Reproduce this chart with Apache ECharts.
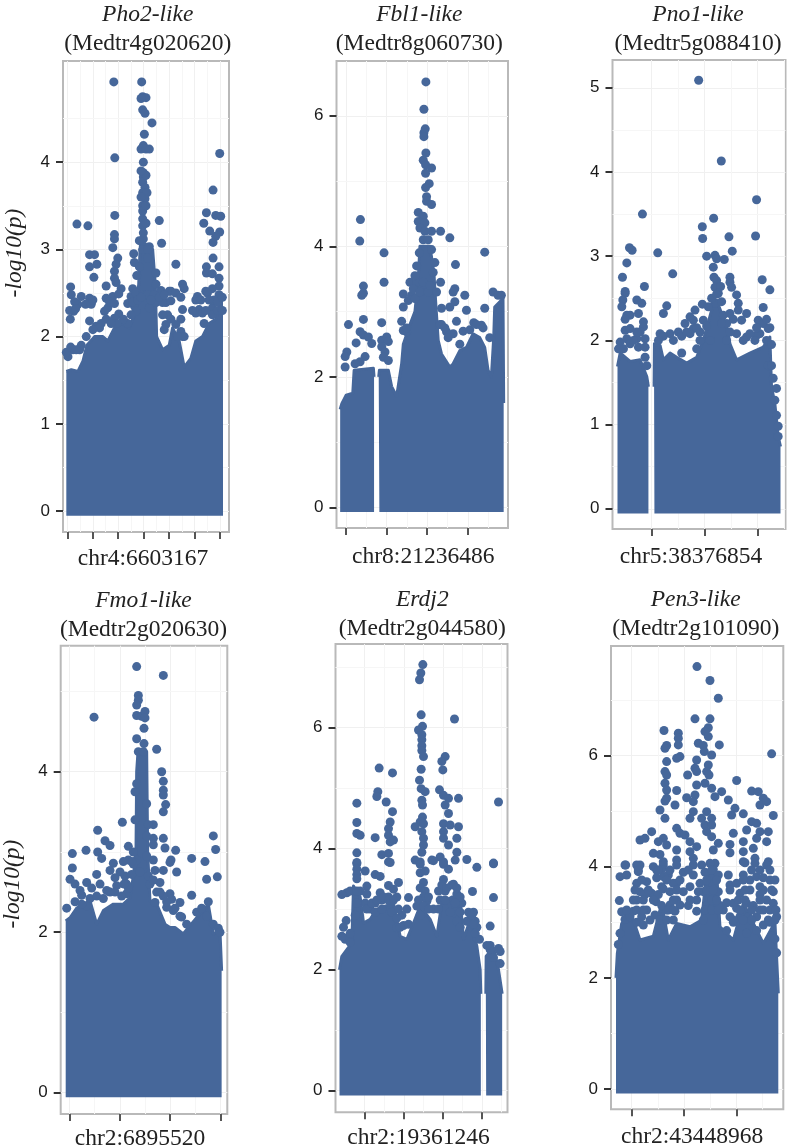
<!DOCTYPE html>
<html>
<head>
<meta charset="utf-8">
<script src="https://cdn.jsdelivr.net/npm/echarts@6/dist/echarts.min.js"></script>
<style>html,body{margin:0;padding:0;background:#fff}#c{width:789px;height:1148px}</style>
</head>
<body>
<div id="c"></div>
<script>
// x = relative position on an unlabelled scale, y = -log10(p)
const genes = ['Pho2-like','Fbl1-like','Pno1-like','Fmo1-like','Erdj2','Pen3-like'];
const loci = ['(Medtr4g020620)','(Medtr8g060730)','(Medtr5g088410)','(Medtr2g020630)','(Medtr2g044580)','(Medtr2g101090)'];
const snps = ['chr4:6603167','chr8:21236486','chr5:38376854','chr2:6895520','chr2:19361246','chr2:43448968'];

const pho2Ticks = [0,1,2,3,4];
const fbl1Ticks = [0,2,4,6];
const pno1Ticks = [0,1,2,3,4,5];
const fmo1Ticks = [0,2,4];
const erdj2Ticks = [0,2,4,6];
const pen3Ticks = [0,2,4,6];

const pho2Pos = [203,280,356,433,510,586,663];
const fbl1Pos = [257,380,502,625];
const pno1Pos = [364,524,683];
const fmo1Pos = [208,360,510,661];
const erdj2Pos = [313,431,548,665];
const pen3Pos = [305,462,619];

// solid lower mass: upper edge along the position scale
const pho2Mass = [[200,1.6],[215,1.62],[235,1.6],[250,1.72],[262,1.9],[285,2.0],[310,2.0],[325,1.95],[345,2.1],[365,2.15],[390,2.1],[410,2.3],[418,2.6],[422,3.0],[460,3.0],[468,2.6],[472,2.0],[490,1.85],[510,1.9],[520,2.1],[540,1.95],[555,1.65],[575,1.75],[590,1.95],[610,2.0],[630,2.15],[650,2.2],[665,2.4],[672,2.4]];
const fbl1Mass = [[240,1.5],[245,1.59],[258,1.72],[278,1.75],[282,2.1],[340,2.13],[342,2.0],[349,null],[356,2.0],[358,2.1],[385,2.1],[395,1.85],[410,1.7],[425,2.2],[430,2.5],[450,2.8],[465,3.0],[475,3.5],[480,4.0],[510,4.0],[522,3.6],[528,3.1],[535,2.56],[545,2.35],[570,2.15],[580,2.2],[600,2.4],[620,2.45],[640,2.66],[660,2.6],[675,2.45],[685,2.1],[695,2.0],[702,2.6],[705,3.07],[730,3.2],[732,1.6]];
const pno1Mass = [[262,1.69],[270,1.85],[300,1.75],[330,1.77],[350,1.57],[355,1.45],[363,null],[372,1.45],[373,1.96],[390,1.94],[400,1.77],[420,1.85],[440,1.8],[470,1.73],[500,1.8],[520,2.0],[545,2.36],[560,2.48],[590,2.16],[600,1.96],[620,1.77],[660,1.85],[700,1.92],[720,2.04],[725,1.45],[735,1.25],[745,0.86],[752,0.74]];
const fmo1Mass = [[197,2.14],[210,2.18],[230,2.3],[270,2.39],[290,2.1],[310,2.27],[340,2.35],[370,2.35],[390,2.43],[400,2.7],[408,3.0],[410,4.0],[414,4.25],[440,4.25],[443,3.0],[450,2.39],[470,2.35],[495,2.1],[510,2.06],[525,2.06],[550,1.98],[590,2.18],[610,2.27],[625,2.35],[640,1.98],[660,2.02],[665,1.52]];
const erdj2Mass = [[238,2.0],[245,2.22],[275,2.44],[280,3.38],[300,3.2],[310,2.77],[330,2.83],[350,3.0],[375,3.05],[400,3.1],[420,2.55],[440,2.5],[460,2.77],[480,3.05],[510,2.83],[530,2.55],[545,3.1],[575,3.2],[600,3.16],[610,2.5],[630,2.83],[650,2.39],[660,2.0],[662,1.6],[669,null],[677,1.6],[678,2.22],[700,2.36],[715,2.0],[726,1.6]];
const pen3Mass = [[258,2.0],[262,2.44],[275,2.98],[310,3.04],[330,2.68],[370,2.75],[395,3.34],[415,2.68],[440,2.98],[480,2.92],[515,3.04],[530,3.88],[560,3.88],[570,2.92],[610,2.68],[640,3.34],[665,3.04],[700,2.62],[735,3.0],[745,1.72]];

// individually visible points above the mass
const pho2Dots = [[343,4.92],[427,4.92],[430,4.75],[440,4.74],[425,4.73],[430,4.6],[437,4.56],[458,4.45],[435,4.32],[432,4.19],[425,4.15],[440,4.15],[450,4.15],[346,4.05],[432,4.0],[662,4.1],[432,3.88],[432,3.83],[430,3.77],[437,3.71],[430,3.65],[443,3.65],[437,3.58],[430,3.5],[430,3.44],[642,3.68],[346,3.39],[622,3.42],[650,3.39],[665,3.38],[430,3.35],[430,3.27],[480,3.33],[232,3.29],[265,3.27],[614,3.3],[632,3.21],[662,3.2],[650,3.15],[642,3.08],[345,3.17],[345,3.12],[340,3.02],[432,3.19],[432,3.12],[432,3.04],[450,3.03],[487,3.07],[355,2.9],[350,2.83],[403,2.95],[270,2.94],[285,2.94],[642,2.9],[270,2.8],[292,2.83],[283,2.68],[345,2.75],[345,2.67],[350,2.62],[405,2.85],[530,2.83],[622,2.8],[660,2.8],[622,2.73],[640,2.72],[660,2.67],[470,2.73],[550,2.6],[320,2.58],[213,2.57],[365,2.55],[400,2.55],[485,2.53],[515,2.52],[555,2.55],[660,2.58],[640,2.55],[620,2.52],
[215,2.48],[245,2.46],[270,2.44],[235,2.37],[258,2.37],[275,2.37],[222,2.29],[212,2.2],[320,2.44],[340,2.46],[358,2.49],[315,2.29],[325,2.33],[358,2.26],[345,2.21],[320,2.2],[290,2.12],[270,2.18],[395,2.46],[410,2.5],[405,2.35],[410,2.29],[450,2.33],[470,2.39],[430,2.48],[445,2.48],[465,2.48],[510,2.52],[500,2.39],[515,2.41],[490,2.39],[500,2.14],[495,2.08],[550,2.31],[545,2.2],[530,2.14],[545,2.06],[550,2.0],[595,2.46],[600,2.31],[590,2.27],[610,2.27],[625,2.5],[660,2.48],[640,2.33],[205,1.77],[220,1.85],[240,1.85],
[225,2.4],[280,2.42],[330,2.4],[345,2.38],[385,2.38],[400,2.4],[415,2.42],[425,2.45],[455,2.42],[480,2.45],[495,2.48],[530,2.5],[545,2.45],[590,2.42],[605,2.42],[630,2.42],[645,2.42],[655,2.4],[670,2.45],[555,2.0],[535,2.0],[505,2.25],[515,2.2],[490,2.25],[395,2.25],[385,2.15],[372,2.2],[352,2.15],[335,2.15],[305,2.15],[300,2.1],[280,2.08],[260,2.0],[580,2.3],[615,2.15],[640,2.25],[655,2.3],[670,2.3],[620,2.3],[210,2.3],[228,2.32],[245,1.9],[200,1.82],[213,1.88],[230,1.85],[445,2.9],[420,2.8],[412,2.7],[470,2.6],[430,3.0],[445,3.0],[420,3.1],[440,3.3],[425,3.6],[440,3.85],[425,3.9],[440,3.5]];
const fbl1Dots = [[498,6.52],[492,6.1],[496,5.8],[492,5.74],[492,5.68],[498,5.43],[490,5.32],[497,5.25],[515,5.2],[497,5.12],[508,4.96],[497,4.9],[500,4.76],[500,4.69],[515,4.64],[475,4.52],[490,4.46],[475,4.38],[495,4.36],[480,4.28],[495,4.23],[515,4.23],[542,4.23],[301,4.41],[299,4.08],[570,4.13],[675,3.91],[372,3.9],[587,3.72],[310,3.39],[372,3.45],[542,3.45],[450,3.45],[585,3.35],[310,3.28],[305,3.25],[310,2.88],[265,2.8],[365,2.83],[300,2.69],[310,2.64],[325,2.61],[335,2.51],[288,2.52],[260,2.38],[255,2.31],[255,2.15],[380,2.61],[365,2.56],[385,2.54],[365,2.46],[375,2.38],[315,2.31],[300,2.23],[285,2.2],[430,3.27],[445,3.17],[430,3.07],[455,3.25],[440,2.69],[430,2.71],[545,3.05],[570,3.07],[585,3.15],[580,3.3],[615,3.25],[620,3.02],[675,3.05],[642,2.83],[665,2.79],[545,2.8],[560,2.69],[580,2.66],[600,2.5],[470,3.45],[530,3.3],[465,3.2],[460,3.35],
[370,2.3],[385,2.25],[440,2.75],[425,2.85],[540,2.8],[555,2.75],[565,2.6],[590,2.85],[610,2.7],[630,2.72],[650,2.8],[670,2.75],[690,2.6],[700,3.3],[715,3.25],[725,3.25],[480,3.3],[505,3.3],[490,3.45],[510,3.4],[465,3.55],[520,3.6],[470,3.7],[525,3.75],[478,3.9],[515,3.95],[490,4.1],[505,4.1]];
const pno1Dots = [[506,5.09],[574,4.13],[680,3.67],[337,3.5],[551,3.45],[517,3.35],[518,3.21],[597,3.23],[677,3.24],[298,3.1],[306,3.07],[383,3.04],[530,3.0],[555,3.01],[560,2.97],[583,2.96],[607,3.06],[290,2.92],[428,2.79],[550,2.87],[277,2.75],[552,2.75],[600,2.75],[560,2.71],[600,2.69],[697,2.72],[343,2.64],[555,2.63],[572,2.64],[605,2.63],[720,2.6],[285,2.58],[285,2.56],[278,2.48],[275,2.4],[290,2.3],[320,2.48],[335,2.44],[325,2.32],[340,2.22],[340,2.16],[410,2.41],[400,2.32],[517,2.43],[495,2.36],[480,2.28],[390,2.08],[420,2.08],[445,2.1],[465,2.2],[490,2.24],[520,2.24],[285,2.12],[300,2.14],[270,1.98],[290,2.02],[320,2.02],[345,2.02],[300,1.96],[325,1.92],[345,1.92],[565,2.56],[555,2.44],[575,2.46],[620,2.54],[625,2.44],[625,2.36],[650,2.32],[700,2.39],[685,2.24],[700,2.2],[715,2.14],[690,2.08],[680,2.06],[710,2.0],[490,2.14],[510,2.1],[480,2.08],[530,2.17],[590,2.2],[620,2.08],[635,2.24],[740,1.43],[735,1.29],[740,1.11],[745,0.98],[745,0.86],[600,2.1],[650,2.04],[675,2.0],
[300,2.3],[285,2.25],[330,2.1],[310,2.0],[265,1.9],[280,1.9],[320,2.1],[345,1.8],[350,1.7],[400,2.05],[430,2.0],[455,2.05],[470,2.1],[500,2.15],[510,2.0],[540,2.0],[535,2.4],[545,2.5],[560,2.55],[580,2.3],[600,2.32],[610,2.25],[640,2.0],[660,2.08],[680,2.15],[720,2.15],[725,1.95],[715,1.7],[725,1.7],[730,1.55],[385,2.0],[500,1.9],[455,1.85],[575,2.2],[590,2.0],[710,2.25]];
const fmo1Dots = [[410,5.31],[490,5.2],[415,4.95],[415,4.89],[410,4.83],[282,4.68],[410,4.7],[425,4.69],[435,4.75],[435,4.67],[432,4.54],[410,4.41],[432,4.35],[470,4.28],[485,4.0],[490,3.88],[490,3.77],[490,3.71],[497,3.59],[490,3.5],[367,3.37],[293,3.27],[460,3.34],[445,3.34],[640,3.2],[315,3.14],[330,3.08],[490,3.17],[460,3.17],[460,3.09],[385,3.07],[495,3.05],[647,3.03],[527,3.02],[217,2.98],[258,3.02],[293,3.0],[305,2.92],[575,2.92],[513,2.9],[615,2.88],[460,2.9],[385,2.9],[340,2.86],[217,2.8],[530,2.75],[620,2.66],[652,2.69],[210,2.66],[225,2.6],[260,2.62],[290,2.72],[330,2.77],[345,2.68],[350,2.58],[375,2.7],[320,2.52],[245,2.46],[575,2.46],[465,2.77],[490,2.77],[510,2.87],[480,2.62],[450,2.6],[510,2.48],[515,2.41],[540,2.37],[465,2.37],[380,2.6],[380,2.48],[400,2.85],[260,2.33],[545,2.19],[500,2.31],[520,2.27],
[200,2.3],[225,2.38],[245,2.35],[270,2.42],[290,2.45],[310,2.42],[330,2.5],[345,2.5],[365,2.45],[385,2.55],[395,2.72],[372,2.6],[420,2.75],[445,2.7],[470,2.5],[490,2.45],[500,2.38],[525,2.3],[540,2.2],[560,2.1],[590,2.25],[605,2.3],[625,2.38],[640,2.1],[655,2.05],[660,2.0],[410,2.9],[400,3.0],[440,2.95],[415,4.25],[430,4.25],[405,3.4],[405,3.75],[410,3.85],[440,3.6],[440,3.2],[620,2.2],[370,2.88],[395,2.88],[460,2.65],[240,2.52],[300,2.6],[275,2.55],[360,2.75],[480,2.5]];
const erdj2Dots = [[488,7.04],[482,6.9],[478,6.79],[483,6.21],[583,6.14],[487,6.02],[475,5.96],[485,5.88],[485,5.8],[485,5.7],[485,5.62],[490,5.52],[555,5.52],[545,5.44],[548,5.3],[357,5.33],[397,5.25],[483,5.31],[478,5.13],[483,4.99],[495,4.94],[485,4.8],[487,4.72],[353,4.94],[350,4.86],[538,4.97],[550,4.88],[565,4.83],[595,4.83],[555,4.72],[565,4.58],[290,4.75],[378,4.77],[715,4.77],[397,4.61],[290,4.43],[390,4.44],[385,4.33],[385,4.22],[290,4.25],[300,4.22],[345,4.18],[390,4.11],[400,4.14],[487,4.52],[480,4.44],[490,4.41],[465,4.36],[485,4.28],[490,4.17],[490,4.06],[485,3.94],[550,4.41],[570,4.39],[595,4.36],[550,4.28],[550,4.17],[590,4.17],[565,4.06],[590,3.94],[290,3.93],[365,3.9],[385,3.92],[385,3.78],[290,3.75],[465,3.81],[480,3.78],[515,3.81],[540,3.86],[550,3.78],[585,3.81],[620,3.82],[700,3.75],[290,3.77],[290,3.66],[290,3.57],[390,3.77],[315,3.63],[345,3.57],[360,3.54],[480,3.74],[480,3.6],[495,3.63],[650,3.69],[700,3.76],[520,3.8],[550,3.74],[565,3.66],[550,3.49],[490,3.44],[480,3.35],[495,3.3],[385,3.39],[415,3.44],[400,3.33],[320,3.38],[260,3.27],[245,3.24],[270,3.3],[580,3.41],[555,3.33],[637,3.29],[700,3.19],[445,3.19],[360,3.27],[500,3.13],[440,3.0],[690,2.72],[258,2.81],[645,2.8],[630,2.83],[430,2.73],[410,2.69],[260,2.52],[650,2.52],[690,2.33],
[255,2.5],[270,2.45],[245,2.55],[250,2.7],[290,3.5],[300,3.3],[315,3.1],[330,3.0],[345,3.1],[365,3.15],[385,3.2],[410,3.2],[425,2.9],[445,2.75],[470,3.05],[490,3.2],[505,3.2],[520,3.0],[535,3.0],[555,3.3],[590,3.25],[605,3.1],[620,2.8],[640,2.95],[650,2.7],[658,2.5],[690,2.4],[715,2.35],[720,2.3],[680,2.4],[720,2.1],[700,2.2],
[290,3.3],[290,3.1],[285,2.9],[270,2.6],[320,3.25],[320,3.0],[335,3.1],[350,3.15],[345,2.95],[370,3.2],[365,3.0],[385,3.15],[400,3.15],[395,2.95],[415,3.0],[410,2.85],[420,2.7],[475,3.15],[490,3.05],[505,3.0],[480,2.9],[535,3.3],[545,3.4],[560,3.35],[575,3.4],[590,3.35],[600,3.2],[540,3.15],[555,3.15],[585,3.1],[600,2.95],[590,2.8],[570,2.95],[625,2.95],[640,2.75],[645,2.6],[635,2.9],[600,2.7]];
const pen3Dots = [[501,7.6],[540,7.35],[565,7.03],[495,6.66],[540,6.66],[402,6.45],[535,6.5],[525,6.43],[535,6.34],[445,6.4],[445,6.31],[445,6.19],[410,6.18],[405,6.13],[505,6.22],[520,6.18],[568,6.19],[725,6.03],[523,6.07],[545,6.01],[450,5.98],[440,5.95],[410,5.89],[405,5.71],[410,5.65],[500,5.92],[495,5.77],[500,5.71],[535,5.83],[530,5.71],[537,5.65],[473,5.65],[620,5.55],[405,5.5],[410,5.38],[410,5.23],[405,5.18],[440,5.37],[500,5.47],[525,5.5],[545,5.41],[555,5.26],[575,5.35],[470,5.24],[495,5.29],[490,5.17],[595,5.2],[665,5.36],[685,5.35],[700,5.23],[690,5.11],[710,5.17],[435,5.11],[390,5.02],[405,4.87],[615,5.05],[605,4.93],[640,4.95],[730,4.92],[530,4.99],[490,4.99],[480,4.87],[515,4.87],[545,4.87],[525,4.75],[545,4.75],[530,4.63],[545,4.54],[665,4.81],[650,4.66],[680,4.78],[690,4.63],[715,4.63],[440,4.69],[450,4.6],[465,4.57],[610,4.6],[365,4.63],[330,4.48],[345,4.51],[400,4.51],[385,4.45],[410,4.39],[600,4.4],[640,4.45],[670,4.33],[680,4.51],[710,4.45],[480,4.45],[480,4.27],[500,4.36],[550,4.3],[565,4.42],[370,4.24],[390,4.22],[440,4.3],[440,4.12],[640,4.27],[640,4.09],[675,4.15],[490,4.15],[285,4.03],[330,4.03],[400,4.09],[440,4.03],[490,4.03],[555,4.06],[715,4.09],[287,4.03],[320,4.03],[270,3.82],[290,3.85],[325,3.91],[320,3.7],[350,3.73],[380,3.94],[400,4.03],[400,3.82],[395,3.64],[515,4.03],[540,4.06],[645,4.07],[675,4.06],[710,4.03],[595,3.85],[600,3.67],[660,3.76],[680,3.82],[720,3.76],[630,3.52],[660,3.58],[690,3.64],[365,3.52],[378,3.37],[268,3.39],[275,3.19],[295,3.13],[350,3.22],[375,3.13],[360,3.04],[410,3.22],[440,3.4],[440,3.7],[480,3.64],[510,3.7],[500,3.4],[580,3.22],[620,3.25],[610,3.34],[650,3.34],[710,3.4],[730,3.34],[700,3.22],[740,3.1],[450,3.31],[420,3.31],
[265,2.6],[270,2.8],[285,3.05],[300,3.1],[320,3.0],[335,3.1],[320,3.4],[330,3.55],[345,3.5],[385,3.5],[400,3.6],[395,3.3],[420,3.55],[435,3.2],[460,3.55],[475,3.3],[500,3.2],[520,3.55],[530,3.3],[550,3.3],[565,3.55],[570,3.3],[590,3.35],[600,3.1],[630,3.1],[655,3.1],[680,3.1],[700,2.95],[720,3.0],[725,2.75],[735,2.7],[740,2.45],[670,3.3],[610,3.0],[590,2.85],[650,2.8],[680,2.85],[340,2.95],[310,3.2],[430,3.7],[460,3.9],[490,3.85],[505,3.55],[525,3.9],[550,3.95],[565,3.85],[415,3.85],[395,3.95],[380,3.8],[620,3.7],[640,3.85],[700,3.8],[730,3.55],[690,3.5],[370,4.0],[600,4.25],
[325,3.94],[385,3.94],[420,3.94],[475,3.94],[545,3.94],[665,3.94],[690,3.94],[720,3.94],[335,3.76],[410,3.76],[450,3.76],[530,3.76],[560,3.76],[640,3.76],[735,3.76],[315,3.58],[355,3.58],[440,3.58],[530,3.58],[550,3.58],[600,3.58],[645,3.58],[700,3.58],[725,3.58],[310,3.4],[340,3.4],[370,3.4],[430,3.4],[480,3.4],[545,3.4],[560,3.4],[625,3.4],[645,3.4],[690,3.4],[290,3.22],[320,3.22],[340,3.22],[415,3.22],[430,3.22],[525,3.22],[545,3.22],[565,3.22],[630,3.22],[665,3.22],[690,3.22],[720,3.22],[738,3.22],[390,3.04],[410,3.04],[430,3.04],[520,3.04],[610,3.04],[640,3.04],[665,3.04],[715,3.04],[735,3.04]];

const massSets = [pho2Mass,fbl1Mass,pno1Mass,fmo1Mass,erdj2Mass,pen3Mass];
const dotSets = [pho2Dots,fbl1Dots,pno1Dots,fmo1Dots,erdj2Dots,pen3Dots];
const tickSets = [pho2Ticks,fbl1Ticks,pno1Ticks,fmo1Ticks,erdj2Ticks,pen3Ticks];
const posSets = [pho2Pos,fbl1Pos,pno1Pos,fmo1Pos,erdj2Pos,pen3Pos];

const panels = [
 {l:63,t:61,w:166,h:471,x0:190,x1:690,y0:-0.24,y1:5.16,tc:147.7,tt:3,gap:15,shift:-3,by:-0.055},
 {l:336.5,t:61,w:171.5,h:467,x0:229,x1:745,y0:-0.317,y1:6.84,tc:419.3,tt:3,gap:17,shift:1,by:-0.07},
 {l:612.5,t:60,w:173,h:469,x0:247,x1:767,y0:-0.24,y1:5.33,tc:698,tt:3,gap:16,shift:-8,by:-0.055},
 {l:60.7,t:645.7,w:166.6,h:468.3,x0:182,x1:682,y0:-0.265,y1:5.57,tc:143.5,tt:589,gap:13,shift:-4,by:-0.055},
 {l:335.5,t:644,w:172,h:468.3,x0:226,x1:742,y0:-0.357,y1:7.38,tc:422.3,tt:588,gap:14,shift:-3,by:-0.08},
 {l:611,t:646,w:172.3,h:463.3,x0:243,x1:760,y0:-0.365,y1:7.97,tc:695.7,tt:588,gap:16,shift:-5,by:-0.08}
];

const blue = '#46679a';
const serif = '"Liberation Serif", serif';
const sans = '"Liberation Sans", Arial, sans-serif';
const option = {animation:false,backgroundColor:'#fff',grid:[],xAxis:[],yAxis:[],series:[],title:[],
  graphic:[
   {type:'text',x:15,y:253,rotation:Math.PI/2,style:{text:'-log10(p)',font:'italic 23.5px '+serif,fill:'#222',align:'center',verticalAlign:'middle'}},
   {type:'text',x:13,y:884,rotation:Math.PI/2,style:{text:'-log10(p)',font:'italic 23.5px '+serif,fill:'#222',align:'center',verticalAlign:'middle'}}
  ]};

panels.forEach((p,i)=>{
  option.grid.push({left:p.l,top:p.t,width:p.w,height:p.h,show:true,outerBoundsMode:'none',backgroundColor:'#fff',borderColor:'#b9b9b9',borderWidth:2});
  option.title.push({text:genes[i],subtext:loci[i],left:p.tc,top:p.tt,textAlign:'center',itemGap:6,padding:0,
    textStyle:{fontFamily:serif,fontStyle:'italic',fontWeight:'normal',fontSize:23.5,color:'#222'},
    subtextStyle:{fontFamily:serif,fontSize:23.5,color:'#222'}});
  const pos = posSets[i], ticks = tickSets[i];
  option.xAxis.push({type:'value',gridIndex:i,min:p.x0,max:p.x1,position:'bottom',
    name:snps[i],nameLocation:'middle',nameGap:p.gap,
    nameTextStyle:{fontFamily:serif,fontSize:23.5,color:'#222',padding:[0,-2*p.shift,0,0]},
    axisLine:{show:false,onZero:false},
    axisTick:{show:true,customValues:pos,length:7,lineStyle:{color:'#555',width:2}},
    axisLabel:{show:false},
    splitLine:{show:true,lineStyle:{color:'#f0f0f0',width:1}}});
  option.yAxis.push({type:'value',gridIndex:i,min:p.y0,max:p.y1,
    axisLine:{show:false,onZero:false},
    axisTick:{show:true,customValues:ticks,length:7,lineStyle:{color:'#333',width:2}},
    axisLabel:{show:true,customValues:ticks,margin:13,fontFamily:sans,fontSize:17,color:'#1a1a1a',formatter:v=>String(v)},
    splitLine:{show:true,lineStyle:{color:'#f0f0f0',width:1}}});
  // minor grid halfway between the major ticks
  const minors = [];
  const stepX = pos[1]-pos[0];
  pos.forEach(v=>minors.push({xAxis:v+stepX/2}));
  const stepY = ticks[1]-ticks[0];
  ticks.forEach(v=>{ if(v+stepY/2<p.y1) minors.push({yAxis:v+stepY/2}); });
  option.series.push({type:'scatter',xAxisIndex:i,yAxisIndex:i,data:[],z:1,silent:true,
    markLine:{silent:true,z:1,symbol:'none',animation:false,label:{show:false},lineStyle:{color:'#f6f6f6',width:1,type:'solid'},data:minors}});
  option.series.push({type:'line',xAxisIndex:i,yAxisIndex:i,data:massSets[i],z:2,symbol:'none',silent:true,
    connectNulls:false,lineStyle:{color:blue,width:3,join:'round'},areaStyle:{color:blue,opacity:1,origin:p.by}});
  option.series.push({type:'scatter',xAxisIndex:i,yAxisIndex:i,data:dotSets[i],z:3,symbol:'circle',symbolSize:9,silent:true,
    itemStyle:{color:blue,opacity:1},large:false});
});

const chart = echarts.init(document.getElementById('c'),null,{renderer:'canvas'});
chart.setOption(option);
</script>
</body>
</html>
